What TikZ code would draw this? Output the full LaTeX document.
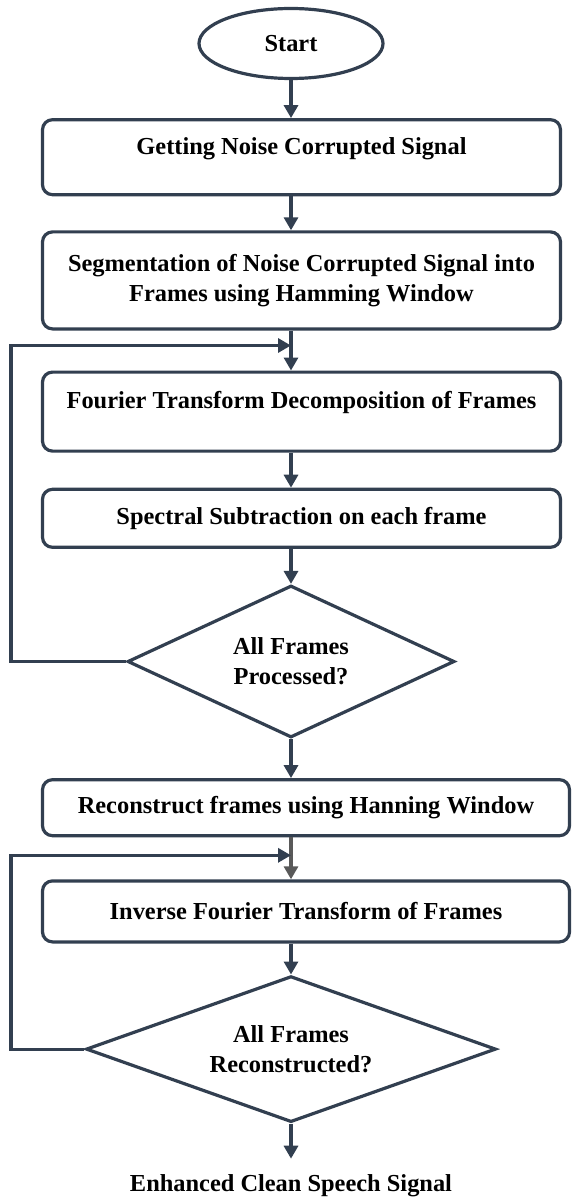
\documentclass[tikz,border=0pt]{standalone}
\usepackage{fontspec}
\setmainfont{Liberation Serif}
\usetikzlibrary{arrows.meta,shapes.geometric,positioning}

\definecolor{slate}{RGB}{50,63,80}
\definecolor{darkgrey}{RGB}{89,89,89}

\begin{document}
\begin{tikzpicture}[x=1pt,y=-1pt,>={Triangle[length=13pt,width=14pt]},
    line width=3.2pt,draw=slate,font=\bfseries\fontsize{24.4pt}{30pt}\selectfont,
    startstop/.style={ellipse,draw,minimum width=184pt,minimum height=70pt},
    process/.style={rectangle,rounded corners=10pt,draw,align=center,minimum width=518pt},
    raised/.style={text depth=23pt},
    decision/.style={diamond,draw,inner sep=0pt,align=center},
    plain/.style={inner sep=0pt,outer sep=0pt}]
    \useasboundingbox (0,0) rectangle (572,1198);

    \node[startstop] (start) at (291,43.5) {Start};
    \node[process,raised,minimum height=75pt] (get) [below=38pt of start,xshift=10.5pt] {Getting Noise Corrupted Signal};
    \node[process,minimum height=97pt] (segment) [below=34pt of get] {Segmentation of Noise Corrupted Signal into\\Frames using Hamming Window};
    \node[process,raised,minimum height=79pt] (fourier) [below=40pt of segment] {Fourier Transform Decomposition of Frames};
    \node[process,minimum height=58pt] (subtract) [below=35pt of fourier] {Spectral Subtraction on each frame};
    \node[decision,aspect=2.2,minimum width=327pt,minimum height=152pt] (allproc) [below=35pt of subtract,xshift=-10.5pt] {All Frames\\Processed?};
    \node[process,minimum width=527pt,minimum height=56pt] (rebuild) [below=39pt of allproc,xshift=15pt] {Reconstruct frames using Hanning Window};
    \node[process,minimum width=527pt,minimum height=61pt] (inverse) [below=42pt of rebuild] {Inverse Fourier Transform of Frames};
    \node[decision,aspect=2.85,minimum width=410pt,minimum height=146pt] (allrec) [below=31pt of inverse,xshift=-15pt] {All Frames\\Reconstructed?};
    \coordinate[below=35pt of allrec] (stop);
    \node[plain] (clean) [below=16pt of stop] {Enhanced Clean Speech Signal};

    \coordinate (edge) at (11,0);
    \path (segment.south -| start) ++(0,15) coordinate (back1);
    \path (rebuild.south -| start) ++(0,18) coordinate (back2);

    \path[->]
    (start.south) edge (start.south |- get.north)
    (get.south -| start) edge (segment.north -| start)
    (segment.south -| start) edge (fourier.north -| start)
    (fourier.south -| start) edge (subtract.north -| start)
    (subtract.south -| start) edge (allproc.north)
    (allproc.south) edge (rebuild.north -| start)
    (rebuild.south -| start) edge [draw=darkgrey] (inverse.north -| start)
    (inverse.south -| start) edge (allrec.north)
    (allrec.south) edge (stop)
    ;

    \draw[->] (allproc.west) -- (allproc.west -| edge) |- (back1);
    \draw[->] (allrec.west) -- (allrec.west -| edge) |- (back2);
  \end{tikzpicture}
\end{document}
